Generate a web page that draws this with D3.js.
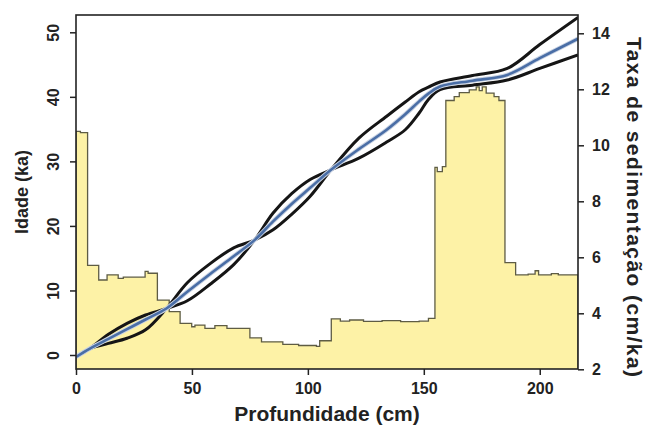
<!DOCTYPE html>
<html>
<head>
<meta charset="utf-8">
<script src="https://cdn.jsdelivr.net/npm/d3@7"></script>
<style>
  body { margin: 0; background: #fff; }
  text { font-family: "Liberation Sans", Arial, sans-serif; font-weight: bold; }
</style>
</head>
<body>
<div id="chart"></div>
<script>
// sedimentation rate (step function), start depth of each step
var rateDepth = [0, 1.9, 5.0, 9.8, 13.4, 18.2, 20.4, 29.8, 31.1, 35.1, 40.2, 44.9, 49.9, 51.3, 55.6, 59.9, 65.1,
                 75, 80, 89.2, 96, 103.7, 105.1, 110.1, 114, 118, 124, 132, 140, 148, 152,
                 154.8, 155.8, 158, 159.5, 163.1, 165.3, 169.6, 172.6, 173.9, 175.2, 176.9, 180.3, 182.4,
                 185, 189.6, 195, 198, 199.5, 205, 208, 216.5];
var rateValue = [10.5, 10.45, 5.71, 5.19, 5.37, 5.25, 5.29, 5.5, 5.43, 4.47, 4.06, 3.64, 3.52, 3.58, 3.46, 3.56, 3.46,
                 3.12, 2.98, 2.89, 2.85, 2.82, 3.02, 3.8, 3.72, 3.76, 3.71, 3.74, 3.70, 3.72, 3.82,
                 9.21, 9.06, 9.24, 11.6, 11.74, 11.88, 11.98, 12.09, 11.95, 12.09, 11.86, 11.74, 11.6,
                 5.81, 5.37, 5.4, 5.52, 5.37, 5.42, 5.37, 5.37];

// age model: depth samples, mean and the two envelope curves
var modelDepth = [0, 6, 14, 22, 30, 39, 48, 58, 68, 77, 85, 93, 101, 110, 122, 134, 142, 148, 152, 157, 171, 186, 200, 216.5];
var ageMean = [-0.3, 1.0, 2.5, 4.0, 5.5, 7.2, 9.8, 12.6, 15.3, 17.8, 20.7, 23.4, 25.9, 28.7, 31.9, 34.9, 37.3, 39.3, 40.5, 41.6, 42.5, 43.4, 46.0, 49.0];
var ageA = [-0.3, 1.0, 3.2, 4.9, 6.2, 7.2, 8.4, 11.0, 14.0, 17.8, 22.0, 25.0, 27.2, 28.7, 30.5, 33.0, 34.9, 37.5, 39.6, 41.1, 41.8, 42.6, 44.4, 46.5];
var ageB = [-0.3, 1.0, 1.8, 2.6, 3.9, 7.2, 11.2, 14.2, 16.6, 17.8, 19.4, 21.8, 24.6, 28.7, 33.6, 37.0, 39.2, 40.8, 41.5, 42.3, 43.3, 44.4, 48.1, 52.3];

var depthTicks = [0, 50, 100, 150, 200];
var ageTicks = [0, 10, 20, 30, 40, 50];
var rateTicks = [2, 4, 6, 8, 10, 12, 14];

var svg = d3.select("#chart").append("svg").attr("width", 645).attr("height", 425),
    pLeft = 76, pRight = 578, pTop = 15, pBottom = 369;

var xScale = d3.scaleLinear().domain([0, 216.5]).range([pLeft, pRight]);
var yAge = d3.scaleLinear().domain([0, 50]).range([355, 32.3]);
var yRate = d3.scaleLinear().domain([2, 14]).range([369.3, 33.3]);

svg.append("defs").append("clipPath").attr("id", "clip")
   .append("rect").attr("x", pLeft).attr("y", pTop).attr("width", pRight - pLeft).attr("height", pBottom - pTop);

var plot = svg.append("g").attr("clip-path", "url(#clip)");

// yellow sedimentation rate
var rateData = rateDepth.map(function(d, i) { return { d: d, v: rateValue[i] }; });
plot.append("path")
    .datum(rateData)
    .attr("fill", "#fdf2a6")
    .attr("stroke", "#5e5c44")
    .attr("stroke-width", 1.3)
    .attr("d", d3.area()
        .curve(d3.curveStepAfter)
        .x(function(d) { return xScale(d.d); })
        .y0(yRate(1.5))
        .y1(function(d) { return yRate(d.v); }));

var line = d3.line()
    .curve(d3.curveCatmullRom.alpha(0.5))
    .x(function(d) { return xScale(d[0]); })
    .y(function(d) { return yAge(d[1]); });

function pts(ages) { return modelDepth.map(function(d, i) { return [d, ages[i]]; }); }

plot.append("path").datum(pts(ageA))
    .attr("fill", "none").attr("stroke", "#151515").attr("stroke-width", 3).attr("d", line);
plot.append("path").datum(pts(ageB))
    .attr("fill", "none").attr("stroke", "#151515").attr("stroke-width", 3).attr("d", line);
plot.append("path").datum(pts(ageMean))
    .attr("fill", "none").attr("stroke", "#c9d3e3").attr("stroke-width", 4.5).attr("d", line);
plot.append("path").datum(pts(ageMean))
    .attr("fill", "none").attr("stroke", "#4a6ea6").attr("stroke-width", 2.6).attr("d", line);

// frame
svg.append("rect")
   .attr("x", pLeft).attr("y", pTop).attr("width", pRight - pLeft).attr("height", pBottom - pTop)
   .attr("fill", "none").attr("stroke", "#222").attr("stroke-width", 1.6);

// axes
var gx = svg.append("g")
   .attr("transform", "translate(0," + pBottom + ")")
   .call(d3.axisBottom(xScale).tickValues(depthTicks).tickSize(6).tickPadding(8));
gx.selectAll("text").attr("font-size", "16px").attr("fill", "#222");

var gl = svg.append("g")
   .attr("transform", "translate(" + pLeft + ",0)")
   .call(d3.axisLeft(yAge).tickValues(ageTicks).tickSize(6));
gl.selectAll("text")
  .attr("font-size", "16px").attr("fill", "#222")
  .attr("transform", "rotate(-90)")
  .attr("x", 0).attr("dy", 0).attr("y", -17)
  .attr("text-anchor", "middle");

var gr = svg.append("g")
   .attr("transform", "translate(" + pRight + ",0)")
   .call(d3.axisRight(yRate).tickValues(rateTicks).tickSize(6).tickPadding(8));
gr.selectAll("text").attr("font-size", "16px").attr("fill", "#222");

svg.selectAll(".domain").remove();
svg.selectAll(".tick line").attr("stroke", "#222").attr("stroke-width", 1.5);

// titles
svg.append("text")
   .attr("x", (pLeft + pRight) / 2).attr("y", 421)
   .attr("text-anchor", "middle").attr("font-size", "21px").attr("fill", "#222")
   .text("Profundidade (cm)");

svg.append("text")
   .attr("transform", "translate(28," + (pTop + pBottom) / 2 + ") rotate(-90)")
   .attr("text-anchor", "middle").attr("font-size", "18px").attr("fill", "#222")
   .text("Idade (ka)");

svg.append("text")
   .attr("transform", "translate(627,207) rotate(90)")
   .attr("text-anchor", "middle").attr("font-size", "21px").attr("fill", "#222")
   .attr("textLength", 340).attr("lengthAdjust", "spacing")
   .text("Taxa de sedimentação (cm/ka)");
</script>
</body>
</html>
